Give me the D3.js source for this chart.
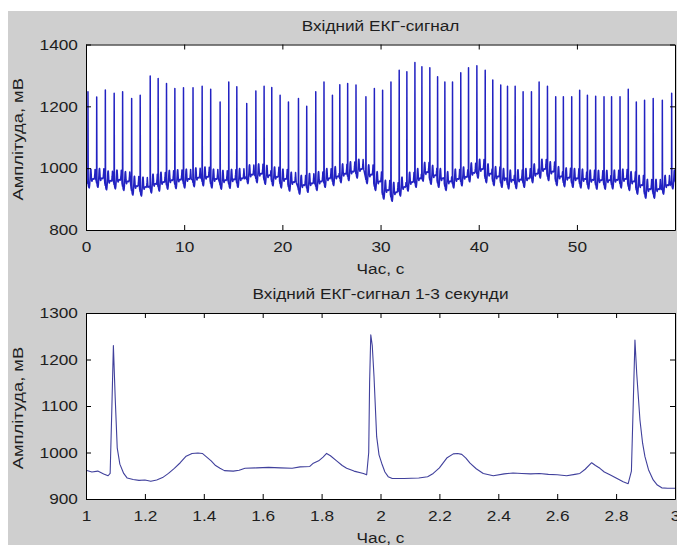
<!DOCTYPE html>
<html>
<head>
<meta charset="utf-8">
<script src="https://cdn.jsdelivr.net/npm/d3@7"></script>
<style>
  html, body { margin: 0; padding: 0; background: #fff; }
  svg { display: block; }
  text { font-family: "Liberation Sans", Arial, Helvetica, sans-serif; fill: #1e1e1e; }
</style>
</head>
<body>
<svg id="fig" width="677" height="545"></svg>
<script>
// ---- 60-second record: R-peak times (s), R-peak amplitudes (mV), isoelectric level per beat (mV)
const beatTimes = [0.20, 1.09, 1.97, 2.87, 3.73, 4.65, 5.52, 6.54, 7.35, 8.20, 9.05, 9.93, 10.90, 11.83, 12.70,
  13.66, 14.54, 15.36, 16.37, 17.30, 18.14, 18.92, 19.77, 20.62, 21.64, 22.48, 23.40, 24.24, 25.10, 25.85,
  26.65, 27.50, 28.51, 29.37, 30.21, 31.06, 31.90, 32.68, 33.50, 34.21, 35.02, 35.81, 36.55, 37.33, 38.17,
  38.96, 39.81, 40.66, 41.43, 42.24, 42.93, 43.71, 44.52, 45.37, 46.15, 47.00, 47.84, 48.62, 49.47, 50.28,
  51.07, 51.91, 52.76, 53.53, 54.39, 55.23, 56.05, 56.89, 57.77, 58.70, 59.65];
const beatPeaks = [1247, 1230, 1253, 1242, 1247, 1225, 1236, 1298, 1290, 1274, 1258, 1260, 1260, 1265, 1255,
  1214, 1279, 1263, 1209, 1250, 1265, 1261, 1236, 1214, 1225, 1200, 1247, 1279, 1236, 1270,
  1274, 1269, 1231, 1258, 1252, 1279, 1317, 1312, 1342, 1328, 1325, 1296, 1279, 1279, 1309,
  1325, 1331, 1317, 1285, 1269, 1265, 1265, 1247, 1247, 1279, 1265, 1231, 1231, 1231, 1252,
  1236, 1233, 1231, 1231, 1231, 1255, 1214, 1220, 1225, 1220, 1242];
const beatBase = [958, 960, 952, 955, 950, 935, 932, 942, 948, 954, 956, 958, 962, 965, 958,
  954, 957, 960, 972, 975, 970, 965, 958, 948, 938, 944, 950, 960, 966, 975,
  982, 990, 972, 950, 922, 915, 932, 948, 960, 980, 970, 960, 950, 958, 965,
  978, 990, 975, 966, 960, 955, 956, 960, 975, 990, 982, 966, 962, 960, 958,
  955, 954, 954, 955, 958, 950, 938, 925, 925, 938, 955];

// ---- detail window 1–3 s
const detailTimes = [1.000, 1.020, 1.040, 1.060, 1.075, 1.082, 1.088, 1.093, 1.099, 1.106, 1.115, 1.128, 1.140,
  1.160, 1.180, 1.200, 1.220, 1.240, 1.260, 1.280, 1.300, 1.320, 1.340, 1.360, 1.380, 1.395, 1.410, 1.425,
  1.440, 1.455, 1.470, 1.500, 1.520, 1.540, 1.580, 1.620, 1.660, 1.700, 1.727, 1.760, 1.772, 1.790, 1.805,
  1.817, 1.830, 1.851, 1.870, 1.885, 1.910, 1.942, 1.953, 1.960, 1.963, 1.967, 1.972, 1.978, 1.987, 1.995,
  2.004, 2.015, 2.026, 2.040, 2.080, 2.130, 2.160, 2.179, 2.200, 2.225, 2.247, 2.262, 2.276, 2.290, 2.304,
  2.325, 2.349, 2.383, 2.420, 2.450, 2.480, 2.510, 2.540, 2.570, 2.600, 2.632, 2.660, 2.677, 2.695, 2.717,
  2.730, 2.745, 2.760, 2.779, 2.800, 2.824, 2.841, 2.852, 2.858, 2.864, 2.870, 2.881, 2.890, 2.898, 2.910,
  2.926, 2.940, 2.955, 2.975, 3.000];
const detailValues = [962, 958, 960, 954, 950, 955, 1100, 1230, 1120, 1010, 975, 955, 945,
  942, 940, 941, 938, 941, 946, 955, 966, 978, 992, 998, 999, 998, 990, 982,
  972, 966, 961, 960, 962, 966, 967, 968, 967, 966, 969, 970, 977, 982, 990,
  998, 993, 982, 972, 966, 960, 955, 952, 1000, 1150, 1253, 1230, 1163, 1034, 995,
  977, 958, 948, 944, 944, 945, 948, 955, 967, 988, 997, 998, 996, 988, 977,
  965, 955, 950, 954, 956, 955, 954, 955, 953, 952, 950, 953, 955, 964, 978,
  972, 966, 958, 952, 945, 937, 933, 960, 1100, 1242, 1170, 1070, 1020, 991, 963,
  941, 930, 924, 923, 923];

// ---- axis ticks and labels
const topXTicks = [0, 10, 20, 30, 40, 50];
const topYTicks = [800, 1000, 1200, 1400];
const botXTicks = [1, 1.2, 1.4, 1.6, 1.8, 2, 2.2, 2.4, 2.6, 2.8, 3];
const botYTicks = [900, 1000, 1100, 1200, 1300];
const titles = ["Вхідний ЕКГ-сигнал", "Вхідний ЕКГ-сигнал 1-3 секунди"];
const xLabel = "Час, с";
const yLabel = "Амплітуда, мВ";

const svg = d3.select("#fig");
const W = 677, H = 545;
const STRETCH = 1.15;

svg.append("rect").attr("width", W).attr("height", H).attr("fill", "#ffffff");
svg.append("rect").attr("x", 8).attr("y", 11).attr("width", W - 8).attr("height", H - 11).attr("fill", "#cfcfcf");

// Build the long trace: each beat is drawn with the ECG cycle shape of the detail window
// (points between consecutive R peaks), placed on that beat's isoelectric level.
const R1 = 1.093, R2 = 1.967, ISO = 960;
const afterR = detailTimes.map((t, i) => [t - R1, detailValues[i] - ISO]).filter(d => d[0] >= 0.02 && d[0] < 0.8);
const beforeR = detailTimes.map((t, i) => [t - R2, detailValues[i] - ISO]).filter(d => d[0] >= -0.06 && d[0] < -0.01);
const longTrace = [];
beatTimes.forEach((T, i) => {
  const next = i + 1 < beatTimes.length ? beatTimes[i + 1] : 61;
  const b = beatBase[i];
  beforeR.forEach(d => longTrace.push([T + d[0], b + d[1]]));
  longTrace.push([T, beatPeaks[i]]);
  afterR.forEach(d => { if (T + d[0] < next - 0.07) longTrace.push([T + d[0], b + d[1]]); });
});
const detailTrace = detailTimes.map((t, i) => [t, detailValues[i]]);

function panel(cfg) {
  const g = svg.append("g");
  const x = d3.scaleLinear().domain(cfg.xDomain).range([cfg.left, cfg.right]);
  const y = d3.scaleLinear().domain(cfg.yDomain).range([cfg.bottom, cfg.top]);

  g.append("rect").attr("x", cfg.left).attr("y", cfg.top)
    .attr("width", cfg.right - cfg.left).attr("height", cfg.bottom - cfg.top).attr("fill", "#ffffff");

  const clipId = "clip" + cfg.id;
  svg.append("clipPath").attr("id", clipId).append("rect")
    .attr("x", cfg.left).attr("y", cfg.top).attr("width", cfg.right - cfg.left).attr("height", cfg.bottom - cfg.top);

  g.append("path").datum(cfg.data)
    .attr("clip-path", `url(#${clipId})`)
    .attr("fill", "none").attr("stroke", cfg.color).attr("stroke-width", cfg.width)
    .attr("stroke-linejoin", "round")
    .attr("d", d3.line().x(d => x(d[0])).y(d => y(d[1])));

  const fmt = cfg.fmt;
  const styleAxis = sel => {
    sel.selectAll(".domain").attr("stroke", "#000").attr("stroke-width", 1);
    sel.selectAll(".tick line").attr("stroke", "#000");
    sel.selectAll("text").attr("font-size", 15).attr("fill", "#1e1e1e")
      .attr("font-family", '"Liberation Sans", Arial, sans-serif')
      .attr("transform", `scale(${STRETCH},1)`);
  };
  g.append("g").attr("transform", `translate(0,${cfg.bottom})`)
    .call(d3.axisBottom(x).tickValues(cfg.xTicks).tickFormat(fmt).tickSize(-5).tickSizeOuter(0).tickPadding(11))
    .call(styleAxis);
  g.append("g").attr("transform", `translate(0,${cfg.top})`)
    .call(d3.axisTop(x).tickValues(cfg.xTicks).tickFormat("").tickSize(-5).tickSizeOuter(0))
    .call(styleAxis);
  g.append("g").attr("transform", `translate(${cfg.left},0)`)
    .call(d3.axisLeft(y).tickValues(cfg.yTicks).tickFormat(d3.format("d")).tickSize(-5).tickSizeOuter(0).tickPadding(7))
    .call(styleAxis);
  g.append("g").attr("transform", `translate(${cfg.right},0)`)
    .call(d3.axisRight(y).tickValues(cfg.yTicks).tickFormat("").tickSize(-5).tickSizeOuter(0))
    .call(styleAxis);

  const cx = (cfg.left + cfg.right) / 2;
  g.append("text").attr("transform", `translate(${cx},${cfg.top - 14}) scale(${STRETCH},1)`)
    .attr("text-anchor", "middle").attr("font-size", 15).text(cfg.title);
  g.append("text").attr("transform", `translate(${cx},${cfg.bottom + 44}) scale(${STRETCH},1)`)
    .attr("text-anchor", "middle").attr("font-size", 15).text(xLabel);
  g.append("text").attr("transform", `translate(23,${(cfg.top + cfg.bottom) / 2 + 2}) rotate(-90) scale(1.22,1)`)
    .attr("text-anchor", "middle").attr("font-size", 15).text(yLabel);
}

panel({
  id: "top", left: 86, right: 675, top: 44.5, bottom: 230,
  xDomain: [0, 59.99], yDomain: [800, 1400], xTicks: topXTicks, yTicks: topYTicks,
  fmt: d3.format("d"), data: longTrace, color: "#2222c2", width: 1.5, title: titles[0]
});
panel({
  id: "bot", left: 86, right: 675, top: 313, bottom: 499,
  xDomain: [1, 3], yDomain: [900, 1300], xTicks: botXTicks, yTicks: botYTicks,
  fmt: d => String(+d.toFixed(1)), data: detailTrace, color: "#40409c", width: 1.1, title: titles[1]
});
</script>
</body>
</html>
